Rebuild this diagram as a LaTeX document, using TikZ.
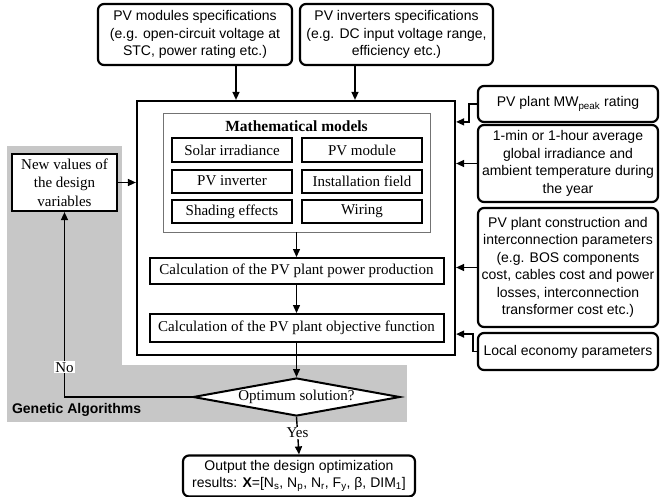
\documentclass[tikz,border=0pt]{standalone}
\usepackage{fontspec}
\setmainfont{Liberation Serif}
\setsansfont{Liberation Sans}
\usetikzlibrary{arrows.meta,shapes.geometric}

\begin{document}
\begin{tikzpicture}[x=1pt, y=-1pt, line width=1.4pt,
    >={Triangle[length=8pt,width=7pt]},
    spec/.style={draw, rounded corners=6pt, line width=2.2pt, align=center, inner sep=1pt,
      font=\sffamily\fontsize{14}{17.5}\selectfont},
    model/.style={draw, line width=2pt, minimum width=120pt, minimum height=23pt, inner sep=1pt,
      font=\fontsize{15}{18}\selectfont},
    calc/.style={draw, line width=2pt, minimum width=294pt, inner sep=1pt,
      font=\fontsize{15}{18}\selectfont}]

    \useasboundingbox (0,0) rectangle (660,497);

    % genetic algorithm area
    \fill[black!22] (7,146) rectangle (407,422);
    \fill[white] (122,138) rectangle (412,365);

    \node[spec, minimum width=194pt, minimum height=61pt] (modspec) at (195,34.5) {PV modules specifications\\(e.g. open-circuit voltage at\\STC, power rating etc.)};
    \node[spec, minimum width=193pt, minimum height=61pt] (invspec) at (396.5,34.5) {PV inverters specifications\\(e.g. DC input voltage range,\\efficiency etc.)};

    \node[draw, line width=2.2pt, minimum width=318pt, minimum height=254pt] (main) at (296,228) {};
    \node[draw=black!55, line width=0.9pt, minimum width=267pt, minimum height=119pt] (models) at (296.5,172.5) {};
    \node[font=\bfseries\fontsize{15.5}{18}\selectfont] (title) at (296.5,126) {Mathematical models};

    \node[model] (solar) at (232,150) {Solar irradiance};
    \node[model] (module) at (362,150) {PV module};
    \node[model] (inverter) at (232,181) {PV inverter};
    \node[model] (field) at (362,181) {Installation field};
    \node[model] (shading) at (232,211.5) {Shading effects};
    \node[model] (wiring) at (362,211.5) {Wiring};

    \node[calc, minimum height=26pt] (power) at (296.5,271) {Calculation of the PV plant power production};
    \node[calc, minimum height=28pt] (objective) at (296.5,328) {Calculation of the PV plant objective function};

    \node[diamond, draw, fill=white, aspect=5.4, minimum width=207pt, minimum height=38pt, inner sep=0pt,
      line width=2pt, font=\fontsize{15}{18}\selectfont] (opt) at (296.5,397) {Optimum solution?};

    \node[spec, minimum width=232pt, minimum height=41pt] (out) at (299,476) {Output the design optimization\\results: \textbf{X}=[N\textsubscript{s}, N\textsubscript{p}, N\textsubscript{r}, F\textsubscript{y}, β, DIM\textsubscript{1}]};

    \node[draw, fill=white, line width=2.2pt, minimum width=105pt, minimum height=57pt, align=center, inner sep=1pt,
      font=\fontsize{15}{18.5}\selectfont] (newv) at (64.5,182.5) {New values of\\the design\\variables};
    \node[anchor=west, font=\sffamily\bfseries\fontsize{14}{16}\selectfont] (ga) at (8,410) {Genetic Algorithms};

    \node[spec, minimum width=180pt, minimum height=36pt] (peak) at (568,104) {PV plant MW\textsubscript{peak} rating};
    \node[spec, minimum width=180pt, minimum height=77pt] (irr) at (568,163.5) {1-min or 1-hour average\\global irradiance and\\ambient temperature during\\the year};
    \node[spec, minimum width=180pt, minimum height=119pt] (constr) at (568,267.5) {PV plant construction and\\interconnection parameters\\(e.g. BOS components\\cost, cables cost and power\\losses, interconnection\\transformer cost etc.)};
    \node[spec, minimum width=180pt, minimum height=37pt] (econ) at (568,351.5) {Local economy parameters};

    \draw [->] ([xshift=41pt]modspec.south) -- ([xshift=41pt]modspec.south |- main.north);
    \draw [->] ([xshift=-41.5pt]invspec.south) -- ([xshift=-41.5pt]invspec.south |- main.north);
    \draw [->] (peak.west) -- ++(-8,0) |- ([yshift=-22pt]main.north east);
    \draw [->] (irr.west) -- (irr.west -| main.east);
    \draw [->] (constr.west) -- (constr.west -| main.east);
    \draw [->] (econ.west) -- ++(-4,0) |- ([yshift=22pt]main.south east);
    \draw [->] (newv.east) -- (newv.east -| main.west);
    \draw [->] (models.south) -- (power.north);
    \draw [->] (power.south) -- (objective.north);
    \draw [->] (objective.south) -- (opt.north);
    \draw [->] (opt.west) -| node[pos=0.58, fill=white, inner sep=1pt, font=\fontsize{15}{18}\selectfont] {No} (newv.south);
    \draw [->] (opt.south) -- node[pos=0.43, fill=white, inner sep=1pt, font=\fontsize{15}{18}\selectfont] {Yes} (out.north);

\end{tikzpicture}
\end{document}
